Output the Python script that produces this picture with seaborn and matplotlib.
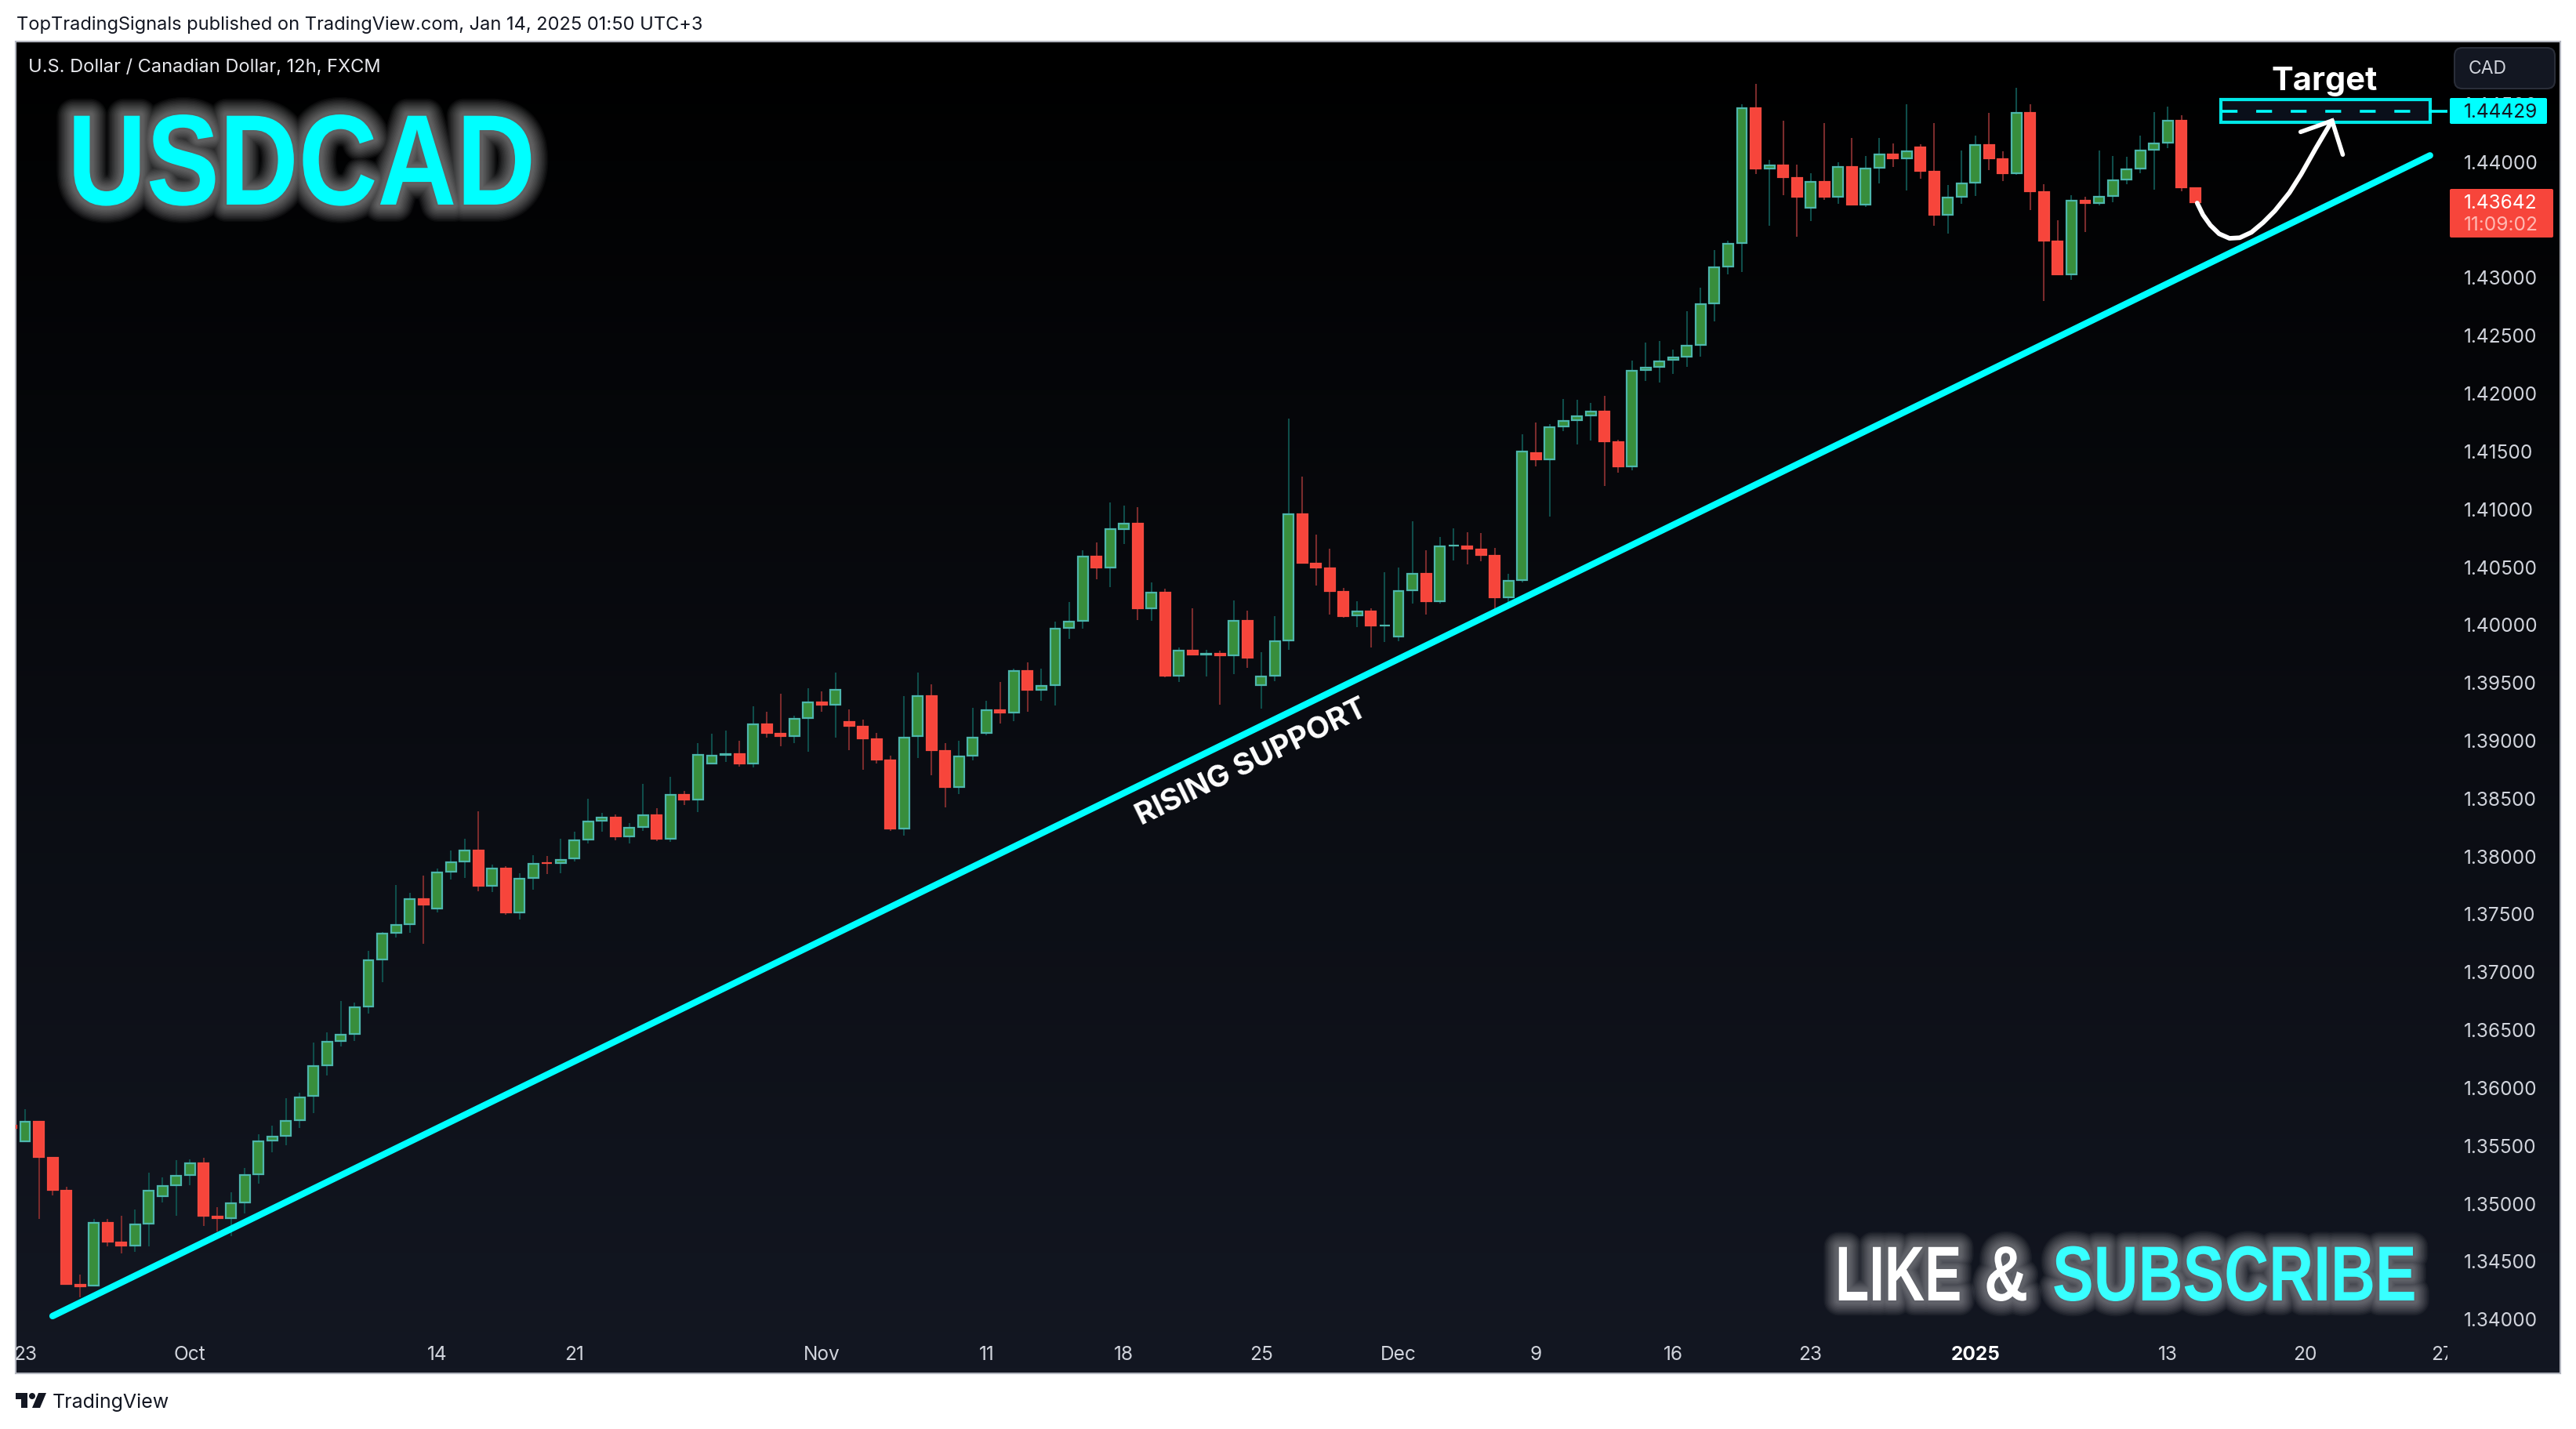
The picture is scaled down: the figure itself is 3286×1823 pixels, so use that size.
import numpy as np
import pandas as pd
import matplotlib
matplotlib.use('Agg')
import matplotlib.pyplot as plt
import matplotlib.patheffects as pe
from matplotlib.patches import Rectangle, FancyBboxPatch, Circle, Polygon
from matplotlib.transforms import Affine2D, Bbox, TransformedBbox
import seaborn as sns

W, H = 3286, 1824

# OHLC, first value is the clipped candle on the left edge
opens = [
    1.35675, 1.35524, 1.35707, 1.35395, 1.35111, 1.34300, 1.34278, 1.34833, 1.34664, 1.34628,
    1.34817, 1.35054, 1.35149, 1.35237, 1.35348, 1.34887, 1.34865, 1.35000, 1.35244, 1.35535,
    1.35576, 1.35711, 1.35917, 1.36185, 1.36395, 1.36456, 1.36693, 1.37099, 1.37329, 1.37404,
    1.37630, 1.37539, 1.37858, 1.37946, 1.38049, 1.37736, 1.37894, 1.37505, 1.37803, 1.37943,
    1.37932, 1.37973, 1.38135, 1.38298, 1.38334, 1.38162, 1.38244, 1.38354, 1.38142, 1.38530,
    1.38480, 1.38792, 1.38866, 1.38885, 1.38792, 1.39140, 1.39061, 1.39029, 1.39185, 1.39329,
    1.39300, 1.39160, 1.39119, 1.39011, 1.38828, 1.38230, 1.39024, 1.39383, 1.38909, 1.38589,
    1.38860, 1.39056, 1.39261, 1.39232, 1.39603, 1.39429, 1.39467, 1.39962, 1.40023, 1.40592,
    1.40483, 1.40815, 1.40876, 1.40131, 1.40280, 1.39549, 1.39779, 1.39731, 1.39752, 1.39725,
    1.40036, 1.39467, 1.39549, 1.39853, 1.40957, 1.40531, 1.40490, 1.40285, 1.40068, 1.40116,
    1.39985, 1.39890, 1.40289, 1.40441, 1.40195, 1.40675, 1.40678, 1.40651, 1.40596, 1.40228,
    1.40377, 1.41484, 1.41420, 1.41705, 1.41759, 1.41800, 1.41842, 1.41578, 1.41359, 1.42190,
    1.42217, 1.42278, 1.42305, 1.42406, 1.42765, 1.43084, 1.43289, 1.44463, 1.43932, 1.43968,
    1.43860, 1.43594, 1.43826, 1.43688, 1.43955, 1.43621, 1.43939, 1.44063, 1.44020, 1.44124,
    1.43914, 1.43533, 1.43688, 1.43810, 1.44144, 1.44022, 1.43892, 1.44422, 1.43738, 1.43311,
    1.43018, 1.43664, 1.43632, 1.43693, 1.43837, 1.43932, 1.44095, 1.44156, 1.44354, 1.43772,
]
closes = [
    1.35643, 1.35707, 1.35393, 1.35108, 1.34296, 1.34275, 1.34833, 1.34661, 1.34625, 1.34819,
    1.35111, 1.35151, 1.35239, 1.35348, 1.34885, 1.34862, 1.35002, 1.35246, 1.35537, 1.35578,
    1.35713, 1.35917, 1.36187, 1.36397, 1.36458, 1.36697, 1.37101, 1.37332, 1.37406, 1.37630,
    1.37573, 1.37860, 1.37948, 1.38049, 1.37736, 1.37894, 1.37503, 1.37806, 1.37934, 1.37930,
    1.37968, 1.38138, 1.38300, 1.38334, 1.38160, 1.38246, 1.38354, 1.38142, 1.38530, 1.38478,
    1.38875, 1.38869, 1.38882, 1.38790, 1.39140, 1.39054, 1.39027, 1.39187, 1.39329, 1.39298,
    1.39438, 1.39115, 1.39006, 1.38824, 1.38228, 1.39024, 1.39383, 1.38905, 1.38587, 1.38862,
    1.39024, 1.39261, 1.39230, 1.39603, 1.39426, 1.39474, 1.39968, 1.40029, 1.40592, 1.40483,
    1.40829, 1.40876, 1.40131, 1.40280, 1.39549, 1.39779, 1.39731, 1.39752, 1.39725, 1.40036,
    1.39704, 1.39555, 1.39860, 1.40957, 1.40524, 1.40483, 1.40280, 1.40064, 1.40116, 1.39985,
    1.39994, 1.40292, 1.40441, 1.40192, 1.40678, 1.40684, 1.40646, 1.40594, 1.40226, 1.40380,
    1.41497, 1.41418, 1.41707, 1.41761, 1.41802, 1.41842, 1.41576, 1.41357, 1.42196, 1.42223,
    1.42278, 1.42312, 1.42413, 1.42772, 1.43090, 1.43294, 1.44463, 1.43932, 1.43968, 1.43858,
    1.43688, 1.43826, 1.43688, 1.43955, 1.43621, 1.43941, 1.44063, 1.44018, 1.44090, 1.43910,
    1.43530, 1.43691, 1.43813, 1.44144, 1.44018, 1.43889, 1.44422, 1.43734, 1.43307, 1.43016,
    1.43664, 1.43632, 1.43697, 1.43840, 1.43934, 1.44097, 1.44158, 1.44354, 1.43767, 1.43642,
]
highs = [
    1.35675, 1.35810, 1.35707, 1.35395, 1.35140, 1.34382, 1.34862, 1.34862, 1.34889, 1.34944,
    1.35262, 1.35221, 1.35370, 1.35377, 1.35391, 1.34964, 1.35093, 1.35303, 1.35594, 1.35668,
    1.35905, 1.35953, 1.36386, 1.36474, 1.36745, 1.36731, 1.37178, 1.37341, 1.37747, 1.37679,
    1.37828, 1.37889, 1.38045, 1.38147, 1.38384, 1.37923, 1.37910, 1.37849, 1.38004, 1.37998,
    1.38147, 1.38208, 1.38492, 1.38370, 1.38357, 1.38282, 1.38621, 1.38411, 1.38682, 1.38560,
    1.38973, 1.39054, 1.39081, 1.38993, 1.39291, 1.39243, 1.39399, 1.39210, 1.39447, 1.39420,
    1.39582, 1.39264, 1.39176, 1.39061, 1.38864, 1.39379, 1.39582, 1.39480, 1.38973, 1.38993,
    1.39277, 1.39338, 1.39501, 1.39616, 1.39670, 1.39616, 1.40023, 1.40192, 1.40639, 1.40707,
    1.41052, 1.41025, 1.41011, 1.40361, 1.40307, 1.39799, 1.40138, 1.39779, 1.39772, 1.40205,
    1.40117, 1.39759, 1.40070, 1.41777, 1.41276, 1.40775, 1.40653, 1.40314, 1.40199, 1.40138,
    1.40450, 1.40490, 1.40890, 1.40639, 1.40754, 1.40829, 1.40795, 1.40788, 1.40660, 1.40436,
    1.41642, 1.41743, 1.41730, 1.41946, 1.41940, 1.41912, 1.41973, 1.41594, 1.42278, 1.42433,
    1.42447, 1.42372, 1.42704, 1.42907, 1.43233, 1.43314, 1.44492, 1.44668, 1.44011, 1.44350,
    1.43971, 1.43896, 1.44329, 1.43991, 1.44201, 1.44045, 1.44201, 1.44153, 1.44492, 1.44147,
    1.44329, 1.43794, 1.44092, 1.44221, 1.44418, 1.44086, 1.44634, 1.44492, 1.43801, 1.43490,
    1.43706, 1.43693, 1.44092, 1.44045, 1.44038, 1.44221, 1.44424, 1.44472, 1.44397, 1.43772,
]
lows = [
    1.35643, 1.35524, 1.34862, 1.35068, 1.34296, 1.34187, 1.34278, 1.34625, 1.34564, 1.34580,
    1.34625, 1.35005, 1.34889, 1.35154, 1.34801, 1.34754, 1.34713, 1.34910, 1.35167, 1.35438,
    1.35499, 1.35648, 1.35777, 1.36102, 1.36352, 1.36400, 1.36636, 1.36907, 1.37293, 1.37334,
    1.37239, 1.37510, 1.37794, 1.37808, 1.37693, 1.37686, 1.37490, 1.37449, 1.37706, 1.37842,
    1.37849, 1.37950, 1.38106, 1.38208, 1.38133, 1.38106, 1.38214, 1.38126, 1.38119, 1.38438,
    1.38377, 1.38792, 1.38810, 1.38769, 1.38763, 1.39020, 1.38945, 1.38973, 1.38898, 1.39243,
    1.39020, 1.38912, 1.38742, 1.38796, 1.38214, 1.38173, 1.38844, 1.38695, 1.38417, 1.38532,
    1.38824, 1.39040, 1.39142, 1.39162, 1.39243, 1.39338, 1.39298, 1.39874, 1.39962, 1.40388,
    1.40321, 1.40693, 1.40036, 1.40029, 1.39542, 1.39501, 1.39731, 1.39549, 1.39304, 1.39569,
    1.39623, 1.39271, 1.39508, 1.39779, 1.40524, 1.40334, 1.40084, 1.40057, 1.39976, 1.39799,
    1.39847, 1.39854, 1.40179, 1.40084, 1.40179, 1.40551, 1.40517, 1.40544, 1.40097, 1.40158,
    1.40362, 1.41364, 1.40930, 1.41669, 1.41553, 1.41587, 1.41195, 1.41310, 1.41330, 1.42102,
    1.42088, 1.42163, 1.42223, 1.42312, 1.42616, 1.43023, 1.43043, 1.43889, 1.43442, 1.43706,
    1.43348, 1.43483, 1.43666, 1.43632, 1.43621, 1.43605, 1.43808, 1.43950, 1.43747, 1.43849,
    1.43442, 1.43375, 1.43632, 1.43700, 1.43923, 1.43828, 1.43883, 1.43578, 1.42792, 1.43016,
    1.42975, 1.43388, 1.43618, 1.43645, 1.43801, 1.43896, 1.43754, 1.44113, 1.43740, 1.43642,
]

price_ticks = [1.34 + 0.005 * i for i in range(22)]
time_pos = [0, 12, 30, 40, 58, 70, 80, 90, 100, 110, 120, 130, 142, 156, 166, 176]
time_labels = ['23', 'Oct', '14', '21', 'Nov', '11', '18', '25', 'Dec', '9', '16', '23', '2025', '13', '20', '27']

# trend line and the hand drawn arrow, in candle index / price
support_x = [2.0, 175.1]
support_y = [1.34023, 1.44050]
arrow_x = [158.15, 158.57, 159.11, 159.75, 160.50, 161.25, 162.10, 162.95, 163.80, 164.87, 165.72, 166.79, 167.97]
arrow_y = [1.43639, 1.43537, 1.43447, 1.43373, 1.43334, 1.43339, 1.43386, 1.43470, 1.43571, 1.43729, 1.43888, 1.44113, 1.44350]
barb_x = [165.68, 167.97, 168.75]
barb_y = [1.44253, 1.44350, 1.44057]
target_price = 1.44429
last_price = 1.43642

sns.set_theme(style='dark', rc={'axes.grid': False})
plt.rcParams['font.family'] = ['Inter', 'Liberation Sans', 'DejaVu Sans']

CYAN = '#00ffff'
TICK = '#d1d4dc'
DARK = '#131722'

fig = plt.figure(figsize=(W / 100, H / 100), dpi=100, facecolor='white')


def px_axes(left, top, right, bottom, **kw):
    return fig.add_axes([left / W, 1 - bottom / H, (right - left) / W, (bottom - top) / H], **kw)


# panel with vertical gradient
bg = px_axes(20, 54, 3266, 1753)
grad = np.linspace(0, 1, 256).reshape(-1, 1, 1) * np.array([0x13, 0x17, 0x22]).reshape(1, 1, 3) / 255
bg.imshow(grad, aspect='auto', extent=[0, 1, 0, 1])
bg.set_xticks([])
bg.set_yticks([])
for s in bg.spines.values():
    s.set_color('#b2b5be')
    s.set_linewidth(1.5)

ax = px_axes(20, 54, 3122, 1700)
ax.patch.set_alpha(0)
for s in ax.spines.values():
    s.set_visible(False)

df = pd.DataFrame({'i': np.arange(-1, 159), 'open': opens, 'high': highs, 'low': lows, 'close': closes})
df['up'] = df['close'] >= df['open']
df['top'] = df[['open', 'close']].max(axis=1)
df['bot'] = df[['open', 'close']].min(axis=1)

ax.set_xlim(-0.685, 176.37)
ax.set_ylim(1.33887, 1.45034)

ax.vlines(df['i'], df['low'], df['high'], colors=np.where(df['up'], '#0f4d4a', '#7a2b2c'), linewidth=1.5, zorder=2)

# edge sits inside the read body extents, 1px = 6.8e-5 in price
inset = 6.8e-5
body_h = (df['top'] - df['bot'] - 2 * inset).clip(lower=0)
ax.bar(df['i'], body_h, bottom=df['bot'] + inset, width=0.74,
       color=np.where(df['up'], '#388e3c', '#f7453b'),
       edgecolor=np.where(df['up'], '#4db6ac', '#f5493f'), linewidth=1.6, zorder=3)

support = pd.DataFrame({'x': support_x, 'y': support_y})
sns.lineplot(data=support, x='x', y='y', ax=ax, color=CYAN, linewidth=6, zorder=4,
             solid_capstyle='round', errorbar=None, sort=False)

curve = pd.DataFrame({'x': arrow_x, 'y': arrow_y})
sns.lineplot(data=curve, x='x', y='y', ax=ax, color='white', linewidth=4.2, zorder=5,
             solid_capstyle='round', solid_joinstyle='round', errorbar=None, sort=False)
ax.plot(barb_x, barb_y, color='white', linewidth=4, zorder=5, solid_capstyle='round', solid_joinstyle='miter')

# target box
ax.add_patch(Rectangle((159.9, 1.44337), 15.2, 0.00196, facecolor='#0a0f1a', edgecolor='#00e8e8', linewidth=3, zorder=4))
ax.plot([159.95, 175.05], [target_price, target_price], color=CYAN, linewidth=2.6, zorder=5,
        dashes=(5.6, 6.6), dash_capstyle='butt')
ax.plot([175.1, 176.37], [target_price, target_price], color=CYAN, linewidth=2.6, zorder=5)

ax.set_xlabel('')
ax.set_ylabel('')
ax.yaxis.tick_right()
ax.set_yticks(price_ticks)
ax.set_yticklabels(['%.5f' % p for p in price_ticks], fontsize=17.6, color=TICK)
ax.tick_params(axis='y', length=0, pad=15)
ax.set_xticks(time_pos)
ax.set_xticklabels(time_labels, fontsize=17.6, color=TICK)
ax.tick_params(axis='x', length=0, pad=12)
clip = TransformedBbox(Bbox([[20 / W, 0], [3122 / W, 1]]), fig.transFigure)
for lab in ax.get_xticklabels():
    lab.set_clip_box(clip)
    lab.set_clip_on(True)
    if lab.get_text() == '2025':
        lab.set_fontweight('bold')
        lab.set_color('white')

# everything else sits on an overlay in pixel coordinates
over = fig.add_axes([0, 0, 1, 1], facecolor='none')
over.set_xlim(0, W)
over.set_ylim(H, 0)
over.axis('off')


class Tall(pe.AbstractPathEffect):
    # the original lettering is condensed and no narrow font is installed,
    # so set the text at the right width and stretch it about its baseline
    def __init__(self, inner, baseline_px, sy):
        super().__init__()
        self.inner = inner
        self.y0 = H - baseline_px
        self.sy = sy

    def draw_path(self, renderer, gc, tpath, affine, rgbFace=None):
        stretched = affine + Affine2D().translate(0, -self.y0).scale(1, self.sy).translate(0, self.y0)
        self.inner.draw_path(renderer, gc, tpath, stretched, rgbFace)


class Halo(pe.Stroke):
    # outline only, so the glow stays white whatever the text colour
    def draw_path(self, renderer, gc, tpath, affine, rgbFace=None):
        super().draw_path(renderer, gc, tpath, affine, None)


def glow(baseline_px, sy, widths, alpha=0.035):
    fx = [Tall(Halo(linewidth=w, foreground='white', alpha=alpha), baseline_px, sy) for w in widths]
    return fx + [Tall(pe.Normal(), baseline_px, sy)]


big_glow = (32, 30, 28, 26, 24, 22, 20, 18, 16, 14, 12, 10, 8, 6)
small_glow = (28, 26, 24, 22, 20, 18, 16, 14, 12, 10, 8, 6)

over.text(21, 32, 'TopTradingSignals published on TradingView.com, Jan 14, 2025 01:50 UTC+3',
          fontsize=17, color=DARK, va='center', ha='left')
over.text(36, 86, 'U.S. Dollar / Canadian Dollar, 12h, FXCM', fontsize=17, color='#e8e9ee', va='center', ha='left')

over.text(86, 262, 'USDCAD', fontsize=100.5, color=CYAN, family='Liberation Sans', fontweight='bold',
          va='baseline', ha='left', path_effects=glow(262, 1.18, big_glow))
over.text(2341, 1660, 'LIKE', fontsize=51, color='white', family='Liberation Sans', fontweight='bold',
          va='baseline', ha='left', path_effects=glow(1660, 1.4, small_glow))
over.text(2531, 1660, '&', fontsize=56, color='white', family='Liberation Sans', fontweight='bold',
          va='baseline', ha='left', path_effects=glow(1660, 1.28, small_glow))
over.text(2618, 1660, 'SUBSCRIBE', fontsize=56.8, color='#38ffff', family='Liberation Sans', fontweight='bold',
          va='baseline', ha='left', path_effects=glow(1660, 1.26, small_glow))

over.text(1597, 973, 'RISING SUPPORT', fontsize=27.8, color='white', fontweight='bold',
          rotation=26, rotation_mode='anchor', ha='center', va='center')
over.text(2965, 115, 'Target', fontsize=30, color='white', fontweight='bold', ha='center', va='baseline')

# CAD button
over.add_patch(FancyBboxPatch((3131, 62), 128, 52, boxstyle='round,pad=0,rounding_size=10',
                              facecolor=DARK, edgecolor='#2a2e39', linewidth=1.5))
over.text(3149, 88, 'CAD', fontsize=16.5, color=TICK, va='center', ha='left')

# price tags
over.add_patch(FancyBboxPatch((3125, 126), 124, 33, boxstyle='round,pad=0,rounding_size=2', facecolor=CYAN, edgecolor='none'))
over.text(3143, 143, '%.5f' % target_price, fontsize=17.6, color='#131722', va='center', ha='left')
over.add_patch(FancyBboxPatch((3125, 242), 132, 62, boxstyle='round,pad=0,rounding_size=2', facecolor='#f7453b', edgecolor='none'))
over.text(3143, 259, '%.5f' % last_price, fontsize=17.6, color='white', va='center', ha='left')
over.text(3143, 287, '11:09:02', fontsize=17.6, color='#ffb9b3', va='center', ha='left')

# TradingView logo + wordmark
over.add_patch(Polygon([(20, 1778), (35, 1778), (35, 1797), (27, 1797), (27, 1786), (20, 1786)], facecolor=DARK, edgecolor='none'))
over.add_patch(Circle((41, 1782), 4, facecolor=DARK, edgecolor='none'))
over.add_patch(Polygon([(49, 1778), (59, 1778), (51, 1797), (41, 1797)], facecolor=DARK, edgecolor='none'))
over.text(67, 1789, 'TradingView', fontsize=18, color=DARK, va='center', ha='left')

fig.savefig('out.png', dpi=100)
